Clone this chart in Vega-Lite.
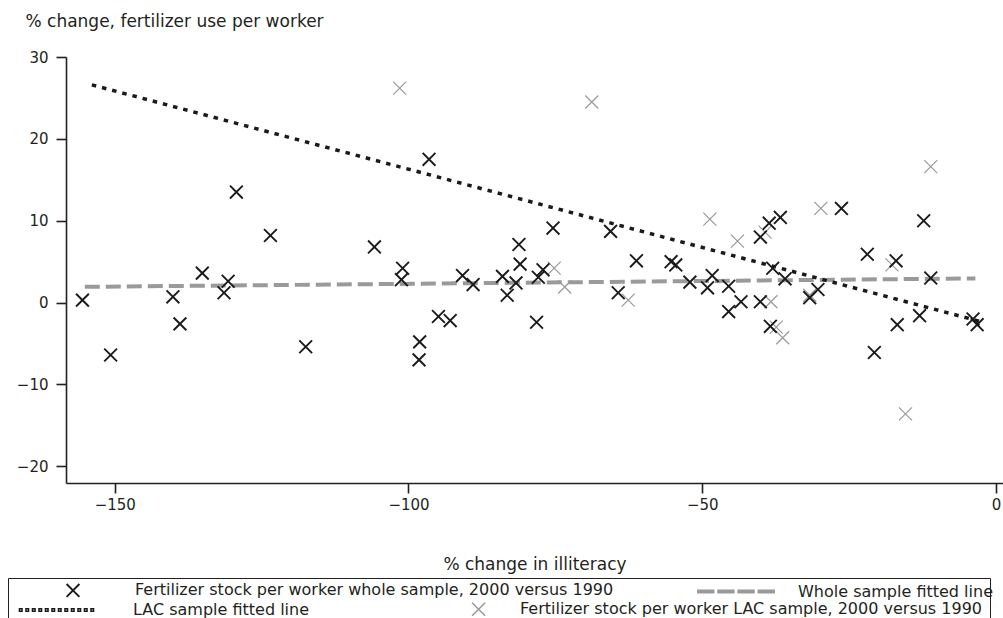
{
  "$schema": "https://vega.github.io/schema/vega-lite/v6.json",
  "width": 937,
  "height": 426,
  "autosize": {"type": "none"},
  "padding": {"left": 66, "top": 57, "right": 0, "bottom": 135},
  "background": "white",
  "config": {
    "view": {"stroke": null},
    "font": "DejaVu Sans",
    "axis": {
      "domainColor": "#231f20", "domainWidth": 1.6, "tickColor": "#231f20", "tickWidth": 1.6,
      "labelColor": "#231f20", "titleColor": "#231f20", "labelFont": "DejaVu Sans", "titleFont": "DejaVu Sans",
      "labelFontSize": 15, "titleFontSize": 17, "titleFontWeight": "normal", "grid": false, "tickSize": 10
    },
    "legend": {"labelFont": "DejaVu Sans", "labelFontSize": 16, "labelColor": "#231f20", "labelLimit": 700}
  },
  "datasets": {
    "whole": [
      {"x": -155.5, "y": 0.3}, {"x": -150.7, "y": -6.4}, {"x": -140.1, "y": 0.7}, {"x": -138.9, "y": -2.6},
      {"x": -135.1, "y": 3.6}, {"x": -131.4, "y": 1.2}, {"x": -130.7, "y": 2.6}, {"x": -129.3, "y": 13.5},
      {"x": -123.5, "y": 8.2}, {"x": -117.5, "y": -5.4}, {"x": -105.8, "y": 6.8}, {"x": -101.0, "y": 4.2},
      {"x": -101.2, "y": 2.8}, {"x": -98.1, "y": -4.8}, {"x": -98.2, "y": -7.0}, {"x": -96.5, "y": 17.5},
      {"x": -94.9, "y": -1.7}, {"x": -92.9, "y": -2.2}, {"x": -90.8, "y": 3.3}, {"x": -89.0, "y": 2.2},
      {"x": -84.0, "y": 3.2}, {"x": -83.2, "y": 0.9}, {"x": -81.2, "y": 7.1}, {"x": -81.0, "y": 4.7},
      {"x": -81.7, "y": 2.4}, {"x": -78.2, "y": -2.4}, {"x": -77.1, "y": 4.0}, {"x": -77.9, "y": 3.1},
      {"x": -75.4, "y": 9.1}, {"x": -65.6, "y": 8.7}, {"x": -64.3, "y": 1.2}, {"x": -61.2, "y": 5.1},
      {"x": -55.3, "y": 5.0}, {"x": -54.5, "y": 4.6}, {"x": -52.1, "y": 2.5}, {"x": -49.1, "y": 1.8},
      {"x": -48.3, "y": 3.3}, {"x": -45.5, "y": 2.0}, {"x": -45.5, "y": -1.1}, {"x": -43.4, "y": 0.1},
      {"x": -40.1, "y": 8.0}, {"x": -40.1, "y": 0.1}, {"x": -38.6, "y": 9.7}, {"x": -38.0, "y": 4.2},
      {"x": -38.4, "y": -2.9}, {"x": -36.7, "y": 10.4}, {"x": -35.9, "y": 2.9}, {"x": -31.7, "y": 0.6},
      {"x": -30.3, "y": 1.6}, {"x": -26.3, "y": 11.5}, {"x": -21.9, "y": 5.9}, {"x": -20.7, "y": -6.1},
      {"x": -17.0, "y": 5.1}, {"x": -16.8, "y": -2.7}, {"x": -13.0, "y": -1.6}, {"x": -12.3, "y": 10.0},
      {"x": -11.1, "y": 3.0}, {"x": -3.9, "y": -2.0}, {"x": -3.2, "y": -2.7}
    ],
    "lac": [
      {"x": -101.5, "y": 26.2}, {"x": -68.8, "y": 24.5}, {"x": -75.2, "y": 4.2}, {"x": -73.4, "y": 1.9},
      {"x": -62.6, "y": 0.3}, {"x": -48.7, "y": 10.2}, {"x": -44.0, "y": 7.5}, {"x": -39.3, "y": 8.6},
      {"x": -38.3, "y": 0.1}, {"x": -37.4, "y": -3.0}, {"x": -36.3, "y": -4.3}, {"x": -31.7, "y": 0.9},
      {"x": -29.8, "y": 11.5}, {"x": -17.7, "y": 4.6}, {"x": -15.4, "y": -13.6}, {"x": -11.1, "y": 16.6}
    ],
    "dotted": [{"x": -153.9, "y": 26.6}, {"x": -2.4, "y": -2.36}],
    "dashed": [{"x": -155.1, "y": 1.92}, {"x": -3.5, "y": 2.95}]
  },
  "layer": [
    {
      "data": {"name": "dashed"},
      "mark": {"type": "line", "color": "#9a9a9a", "strokeWidth": 4, "strokeDash": [15, 6], "strokeCap": "butt"},
      "encoding": {
        "x": {"field": "x", "type": "quantitative", "scale": {"domain": [-158.3, 1.2], "nice": false, "zero": false},
          "axis": {"title": "% change in illiteracy", "values": [-150, -100, -50, 0], "labelFlush": false, "labelOverlap": false, "labelPadding": 4, "titlePadding": 44}},
        "y": {"field": "y", "type": "quantitative", "scale": {"domain": [-22.04, 30], "nice": false, "zero": false},
          "axis": {"title": "% change, fertilizer use per worker", "values": [-20, -10, 0, 10, 20, 30], "labelPadding": 8,
            "titleAngle": 0, "titleAlign": "left", "titleBaseline": "middle", "titleX": -41, "titleY": -36}}
      }
    },
    {
      "data": {"name": "dotted"},
      "mark": {"type": "line", "color": "#1a1a1a", "strokeWidth": 3.5, "strokeDash": [4.5, 6], "strokeCap": "butt"},
      "encoding": {
        "x": {"field": "x", "type": "quantitative"},
        "y": {"field": "y", "type": "quantitative"}
      }
    },
    {
      "data": {"name": "lac"},
      "transform": [{"calculate": "'Fertilizer stock per worker LAC sample, 2000 versus 1990'", "as": "s"}],
      "mark": {"type": "point", "filled": false, "strokeWidth": 1.2, "size": 169, "xOffset": -35.1, "opacity": 1},
      "encoding": {
        "x": {"field": "x", "type": "quantitative"},
        "y": {"field": "y", "type": "quantitative"},
        "shape": {"field": "s", "type": "nominal",
          "scale": {"domain": ["LAC sample fitted line", "Fertilizer stock per worker LAC sample, 2000 versus 1990"],
            "range": ["M-5.7,-0.2L-5.3,-0.2L-5.3,0.2L-5.7,0.2ZM-4.7,-0.2L-4.3,-0.2L-4.3,0.2L-4.7,0.2ZM-3.7,-0.2L-3.3,-0.2L-3.3,0.2L-3.7,0.2ZM-2.7,-0.2L-2.3,-0.2L-2.3,0.2L-2.7,0.2ZM-1.7,-0.2L-1.3,-0.2L-1.3,0.2L-1.7,0.2ZM-0.7,-0.2L-0.3,-0.2L-0.3,0.2L-0.7,0.2ZM0.3,-0.2L0.7,-0.2L0.7,0.2L0.3,0.2ZM1.3,-0.2L1.7,-0.2L1.7,0.2L1.3,0.2ZM2.3,-0.2L2.7,-0.2L2.7,0.2L2.3,0.2ZM3.3,-0.2L3.7,-0.2L3.7,0.2L3.3,0.2ZM4.3,-0.2L4.7,-0.2L4.7,0.2L4.3,0.2ZM5.3,-0.2L5.7,-0.2L5.7,0.2L5.3,0.2Z",
              "M4.4,-1L6.4,1M4.4,1L6.4,-1"]},
          "legend": {"orient": "none", "legendX": -58, "legendY": 521, "direction": "horizontal", "title": " ",
            "titleFontSize": 10, "titlePadding": 5, "titleColor": "white",
            "symbolSize": 169, "symbolOffset": 32.5, "labelOffset": 68.5, "columnPadding": 93, "padding": 8, "strokeColor": "#231f20",
            "symbolStrokeWidth": 1.5, "symbolFillColor": "transparent"}},
        "color": {"field": "s", "type": "nominal",
          "scale": {"domain": ["LAC sample fitted line", "Fertilizer stock per worker LAC sample, 2000 versus 1990"],
            "range": ["#1a1a1a", "#999999"]},
          "legend": {"orient": "none", "legendX": -58, "legendY": 521, "direction": "horizontal", "title": " ",
            "titleFontSize": 10, "titlePadding": 5, "titleColor": "white",
            "symbolSize": 169, "symbolOffset": 32.5, "labelOffset": 68.5, "columnPadding": 93, "padding": 8, "strokeColor": "#231f20",
            "symbolStrokeWidth": 1.5, "symbolFillColor": "transparent"}}
      }
    },
    {
      "data": {"name": "whole"},
      "transform": [{"calculate": "'Fertilizer stock per worker whole sample, 2000 versus 1990'", "as": "s"}],
      "mark": {"type": "point", "filled": false, "strokeWidth": 1.9, "size": 256, "opacity": 1},
      "encoding": {
        "x": {"field": "x", "type": "quantitative"},
        "y": {"field": "y", "type": "quantitative"},
        "shape": {"field": "s", "type": "nominal",
          "scale": {"domain": ["Fertilizer stock per worker whole sample, 2000 versus 1990", "Whole sample fitted line"],
            "range": ["M-0.8,-0.8L0.8,0.8M-0.8,0.8L0.8,-0.8",
              "M-4.75,-0.12L-2.81,-0.12L-2.81,0.12L-4.75,0.12ZM-2.23,-0.12L-0.29,-0.12L-0.29,0.12L-2.23,0.12ZM0.29,-0.12L2.23,-0.12L2.23,0.12L0.29,0.12ZM2.81,-0.12L4.75,-0.12L4.75,0.12L2.81,0.12Z"]},
          "legend": {"orient": "none", "legendX": -32, "legendY": 524, "direction": "horizontal", "title": null,
            "symbolSize": 256, "symbolOffset": 30, "labelOffset": 53, "columnPadding": 80, "padding": 0,
            "symbolStrokeWidth": 1.9, "symbolFillColor": "transparent"}},
        "color": {"field": "s", "type": "nominal",
          "scale": {"domain": ["Fertilizer stock per worker whole sample, 2000 versus 1990", "Whole sample fitted line"],
            "range": ["#1a1a1a", "#9a9a9a"]},
          "legend": {"orient": "none", "legendX": -32, "legendY": 524, "direction": "horizontal", "title": null,
            "symbolSize": 256, "symbolOffset": 30, "labelOffset": 53, "columnPadding": 80, "padding": 0,
            "symbolStrokeWidth": 1.9, "symbolFillColor": "transparent"}}
      }
    }
  ],
  "resolve": {"scale": {"shape": "independent", "color": "independent"}, "legend": {"shape": "independent", "color": "independent"}}
}
